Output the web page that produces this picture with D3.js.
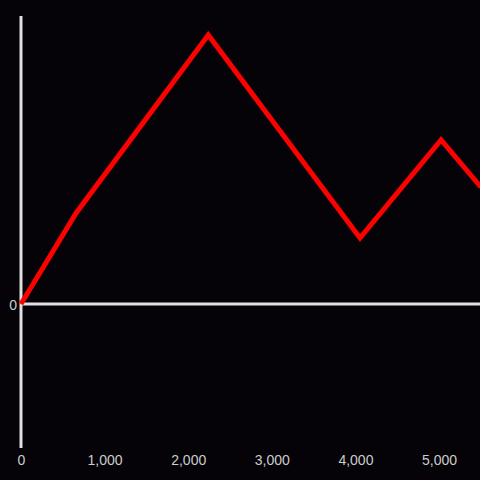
<!DOCTYPE html>
<html>
<head>
<meta charset="utf-8">
<script src="https://cdn.jsdelivr.net/npm/d3@7"></script>
<style>
  html, body { margin: 0; padding: 0; background: #050308; }
  svg { display: block; }
</style>
</head>
<body>
<svg id="chart"></svg>
<script>
// values
const xs = [0, 660, 2240, 4055, 5025, 5500]
const ys = [0, 91, 269, 66, 164, 117]
const xTicks = [0, 1000, 2000, 3000, 4000, 5000]
const yTicks = [0]

function drawChart(){
    const width = 480
    const height = 480

    const svg = d3.select("#chart")
        .attr("width", width)
        .attr("height", height)

    svg.append("rect")
        .attr("width", width)
        .attr("height", height)
        .attr("fill", "#050308")

    const x = d3.scaleLinear().domain([0, 5500]).range([21, 480.8])
    const y = d3.scaleLinear().domain([-144, 288]).range([448, 16])

    // vertical axis line
    svg.append("line")
        .attr("x1", x(0)).attr("x2", x(0))
        .attr("y1", y(-144)).attr("y2", y(288))
        .attr("stroke", "#e0e0e0")
        .attr("stroke-width", 3)

    // zero line
    svg.append("line")
        .attr("x1", x(0)).attr("x2", width)
        .attr("y1", y(0)).attr("y2", y(0))
        .attr("stroke", "#e0e0e0")
        .attr("stroke-width", 3)

    const xAxis = svg.append("g")
        .attr("transform", `translate(0,${455})`)
        .call(d3.axisBottom(x).tickValues(xTicks).tickSize(0).tickPadding(0).tickFormat(d3.format(",")))
    xAxis.select(".domain").remove()
    xAxis.selectAll("text")
        .attr("fill", "#cccccc")
        .attr("dy", "0.71em")
        .style("font-family", "'Liberation Sans', Arial, sans-serif")
        .style("font-size", "14px")

    const yAxis = svg.append("g")
        .attr("transform", `translate(${17},1)`)
        .call(d3.axisLeft(y).tickValues(yTicks).tickSize(0).tickPadding(0))
    yAxis.select(".domain").remove()
    yAxis.selectAll("text")
        .attr("fill", "#cccccc")
        .style("font-family", "'Liberation Sans', Arial, sans-serif")
        .style("font-size", "14px")

    const data = xs.map((d, i) => ({x: d, y: ys[i]}))

    const line = d3.line()
        .x(d => x(d.x))
        .y(d => y(d.y))

    svg.append("path")
        .datum(data)
        .attr("fill", "none")
        .attr("stroke", "#ff0000")
        .attr("stroke-width", 5)
        .attr("stroke-linejoin", "miter")
        .attr("d", line)
}

drawChart()
</script>
</body>
</html>
